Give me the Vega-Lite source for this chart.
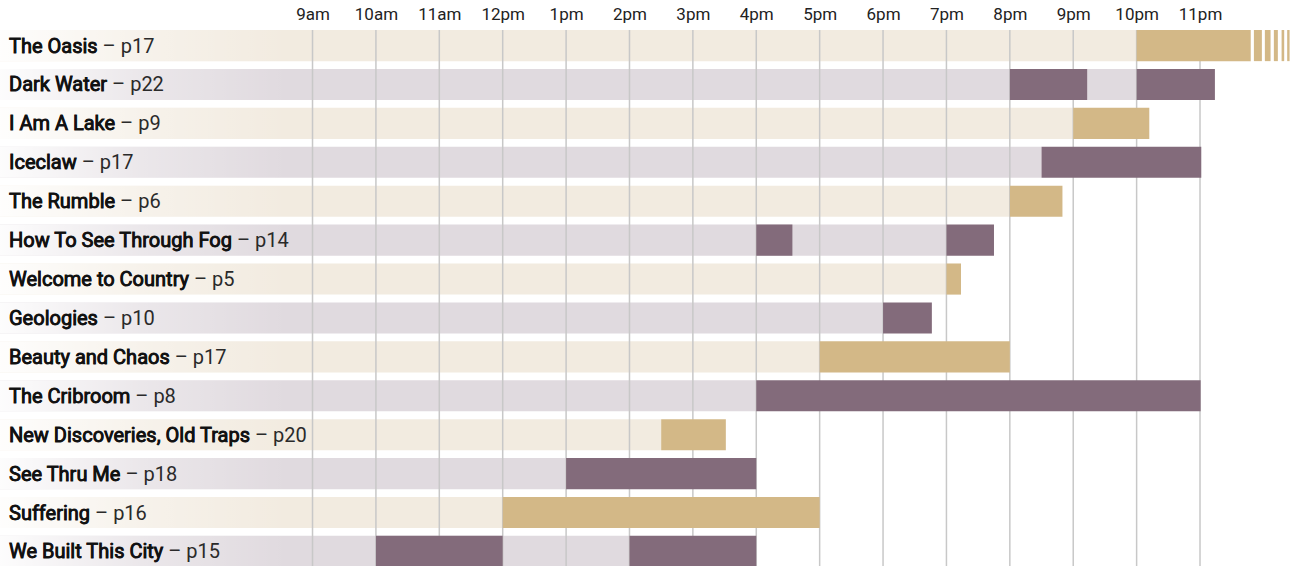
{
  "$schema": "https://vega.github.io/schema/vega-lite/v6.json",
  "width": 1297,
  "height": 537,
  "autosize": {"type": "none"},
  "padding": {"top": 30, "left": 0, "right": 0, "bottom": 0},
  "background": "white",
  "config": {
    "view": {"stroke": null},
    "font": "Roboto",
    "axisX": {
      "orient": "top",
      "labelExpr": "datum.value < 12 ? datum.value + 'am' : (datum.value == 12 ? '12pm' : (datum.value - 12) + 'pm')",
      "domain": false, "ticks": false, "grid": false,
      "labelFont": "Roboto", "labelFontSize": 17, "labelColor": "#222222", "labelPadding": 7
    }
  },
  "datasets": {
    "shows": [
      {"show": "The Oasis", "label": "The Oasis – p17", "grp": "a"},
      {"show": "Dark Water", "label": "Dark Water – p22", "grp": "b"},
      {"show": "I Am A Lake", "label": "I Am A Lake – p9", "grp": "a"},
      {"show": "Iceclaw", "label": "Iceclaw – p17", "grp": "b"},
      {"show": "The Rumble", "label": "The Rumble – p6", "grp": "a"},
      {"show": "How To See Through Fog", "label": "How To See Through Fog – p14", "grp": "b"},
      {"show": "Welcome to Country", "label": "Welcome to Country – p5", "grp": "a"},
      {"show": "Geologies", "label": "Geologies – p10", "grp": "b"},
      {"show": "Beauty and Chaos", "label": "Beauty and Chaos – p17", "grp": "a"},
      {"show": "The Cribroom", "label": "The Cribroom – p8", "grp": "b"},
      {"show": "New Discoveries, Old Traps", "label": "New Discoveries, Old Traps – p20", "grp": "a"},
      {"show": "See Thru Me", "label": "See Thru Me – p18", "grp": "b"},
      {"show": "Suffering", "label": "Suffering – p16", "grp": "a"},
      {"show": "We Built This City", "label": "We Built This City – p15", "grp": "b"}
    ],
    "sessions": [
      {"show": "The Oasis", "grp": "a", "start": 22, "end": 23.8, "fade": false},
      {"show": "The Oasis", "grp": "a", "start": 23.85, "end": 23.976, "fade": true},
      {"show": "The Oasis", "grp": "a", "start": 24.023, "end": 24.113, "fade": true},
      {"show": "The Oasis", "grp": "a", "start": 24.165, "end": 24.228, "fade": true},
      {"show": "The Oasis", "grp": "a", "start": 24.287, "end": 24.328, "fade": true},
      {"show": "The Oasis", "grp": "a", "start": 24.375, "end": 24.413, "fade": true},
      {"show": "Dark Water", "grp": "b", "start": 20, "end": 21.22, "fade": false},
      {"show": "Dark Water", "grp": "b", "start": 22, "end": 23.235, "fade": false},
      {"show": "I Am A Lake", "grp": "a", "start": 21, "end": 22.2, "fade": false},
      {"show": "Iceclaw", "grp": "b", "start": 20.5, "end": 23.02, "fade": false},
      {"show": "The Rumble", "grp": "a", "start": 20, "end": 20.83, "fade": false},
      {"show": "How To See Through Fog", "grp": "b", "start": 16, "end": 16.57, "fade": false},
      {"show": "How To See Through Fog", "grp": "b", "start": 19, "end": 19.75, "fade": false},
      {"show": "Welcome to Country", "grp": "a", "start": 19, "end": 19.23, "fade": false},
      {"show": "Geologies", "grp": "b", "start": 18, "end": 18.77, "fade": false},
      {"show": "Beauty and Chaos", "grp": "a", "start": 17, "end": 20, "fade": false},
      {"show": "The Cribroom", "grp": "b", "start": 16, "end": 23.01, "fade": false},
      {"show": "New Discoveries, Old Traps", "grp": "a", "start": 14.5, "end": 15.52, "fade": false},
      {"show": "See Thru Me", "grp": "b", "start": 13, "end": 16, "fade": false},
      {"show": "Suffering", "grp": "a", "start": 12, "end": 17, "fade": false},
      {"show": "We Built This City", "grp": "b", "start": 10, "end": 12, "fade": false},
      {"show": "We Built This City", "grp": "b", "start": 14, "end": 16, "fade": false}
    ],
    "hours": [
      {"h": 9}, {"h": 10}, {"h": 11}, {"h": 12}, {"h": 13}, {"h": 14}, {"h": 15},
      {"h": 16}, {"h": 17}, {"h": 18}, {"h": 19}, {"h": 20}, {"h": 21}, {"h": 22}, {"h": 23}
    ]
  },
  "layer": [
    {
      "data": {"name": "sessions"},
      "transform": [
        {"filter": "!datum.fade"},
        {"aggregate": [{"op": "max", "field": "start", "as": "bgEnd"}], "groupby": ["show", "grp"]}
      ],
      "mark": {"type": "bar"},
      "encoding": {
        "y": {"field": "show", "type": "nominal", "sort": ["The Oasis", "Dark Water", "I Am A Lake", "Iceclaw", "The Rumble", "How To See Through Fog", "Welcome to Country", "Geologies", "Beauty and Chaos", "The Cribroom", "New Discoveries, Old Traps", "See Thru Me", "Suffering", "We Built This City"], "scale": {"paddingInner": 0.2, "paddingOuter": 0}, "axis": null},
        "x": {"field": "bgEnd", "type": "quantitative", "scale": {"domain": [4.07, 24.53], "nice": false, "zero": false}, "title": null, "axis": {"values": [9, 10, 11, 12, 13, 14, 15, 16, 17, 18, 19, 20, 21, 22, 23]}},
        "x2": {"datum": 4.07},
        "fill": {"field": "grp", "type": "nominal", "scale": {"domain": ["a", "b"], "range": ["#f2ebe0", "#e0dadf"]}, "legend": null}
      }
    },
    {
      "data": {"name": "shows"},
      "mark": {"type": "bar", "color": {"gradient": "linear", "x1": 0, "y1": 0, "x2": 1, "y2": 0, "stops": [{"offset": 0, "color": "rgba(255,255,255,0.93)"}, {"offset": 0.5, "color": "rgba(255,255,255,0.35)"}, {"offset": 1, "color": "rgba(255,255,255,0)"}]}},
      "encoding": {
        "y": {"field": "show", "type": "nominal", "sort": ["The Oasis", "Dark Water", "I Am A Lake", "Iceclaw", "The Rumble", "How To See Through Fog", "Welcome to Country", "Geologies", "Beauty and Chaos", "The Cribroom", "New Discoveries, Old Traps", "See Thru Me", "Suffering", "We Built This City"], "axis": null},
        "x": {"datum": 8.6, "type": "quantitative", "title": null, "axis": {"values": [9, 10, 11, 12, 13, 14, 15, 16, 17, 18, 19, 20, 21, 22, 23]}},
        "x2": {"datum": 4.07}
      }
    },
    {
      "data": {"name": "hours"},
      "mark": {"type": "rule", "color": "#c8c8c8", "strokeWidth": 1.5},
      "encoding": {
        "x": {"field": "h", "type": "quantitative", "title": null, "axis": {"values": [9, 10, 11, 12, 13, 14, 15, 16, 17, 18, 19, 20, 21, 22, 23]}}
      }
    },
    {
      "data": {"name": "sessions"},
      "mark": {"type": "bar"},
      "encoding": {
        "y": {"field": "show", "type": "nominal", "sort": ["The Oasis", "Dark Water", "I Am A Lake", "Iceclaw", "The Rumble", "How To See Through Fog", "Welcome to Country", "Geologies", "Beauty and Chaos", "The Cribroom", "New Discoveries, Old Traps", "See Thru Me", "Suffering", "We Built This City"], "axis": null},
        "x": {"field": "start", "type": "quantitative", "title": null, "axis": {"values": [9, 10, 11, 12, 13, 14, 15, 16, 17, 18, 19, 20, 21, 22, 23]}},
        "x2": {"field": "end"},
        "color": {"field": "grp", "type": "nominal", "scale": {"domain": ["a", "b"], "range": ["#d3b887", "#836b7b"]}, "legend": null}
      }
    },
    {
      "data": {"name": "shows"},
      "mark": {"type": "text", "align": "left", "baseline": "middle", "dx": 9, "dy": 1, "fontSize": 20, "color": "#2a2a2a"},
      "encoding": {
        "y": {"field": "show", "type": "nominal", "sort": ["The Oasis", "Dark Water", "I Am A Lake", "Iceclaw", "The Rumble", "How To See Through Fog", "Welcome to Country", "Geologies", "Beauty and Chaos", "The Cribroom", "New Discoveries, Old Traps", "See Thru Me", "Suffering", "We Built This City"], "axis": null},
        "x": {"datum": 4.07, "type": "quantitative", "title": null, "axis": {"values": [9, 10, 11, 12, 13, 14, 15, 16, 17, 18, 19, 20, 21, 22, 23]}},
        "text": {"field": "label"}
      }
    },
    {
      "data": {"name": "shows"},
      "mark": {"type": "text", "align": "left", "baseline": "middle", "dx": 9, "dy": 1, "fontSize": 20, "color": "#111111", "stroke": "#111111", "strokeWidth": 0.8},
      "encoding": {
        "y": {"field": "show", "type": "nominal", "sort": ["The Oasis", "Dark Water", "I Am A Lake", "Iceclaw", "The Rumble", "How To See Through Fog", "Welcome to Country", "Geologies", "Beauty and Chaos", "The Cribroom", "New Discoveries, Old Traps", "See Thru Me", "Suffering", "We Built This City"], "axis": null},
        "x": {"datum": 4.07, "type": "quantitative", "title": null, "axis": {"values": [9, 10, 11, 12, 13, 14, 15, 16, 17, 18, 19, 20, 21, 22, 23]}},
        "text": {"field": "show"}
      }
    }
  ]
}
